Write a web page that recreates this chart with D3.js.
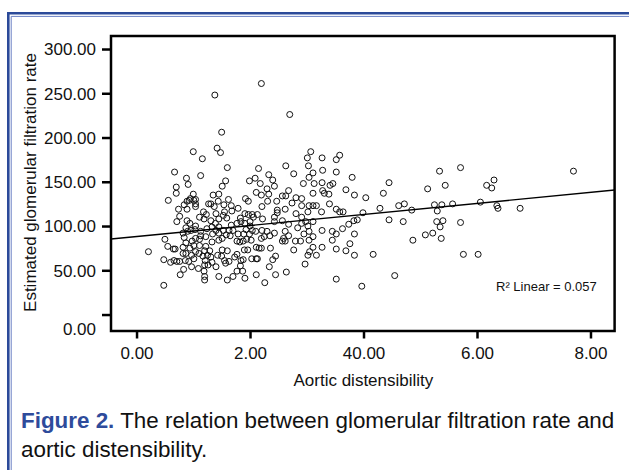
<!DOCTYPE html>
<html>
<head>
<meta charset="utf-8">
<script src="https://cdn.jsdelivr.net/npm/d3@7"></script>
<style>
  html, body { margin: 0; padding: 0; background: #fff; }
  svg { display: block; }
  text { font-family: "Liberation Sans", Arial, Helvetica, sans-serif; }
</style>
</head>
<body>
<svg id="chart" width="629" height="470"></svg>
<script>
// ---- data ----
const distensibility = [
  2.20,1.38,2.70,1.50,1.42,1.48,1.00,1.16,1.60,0.67,
  1.13,0.88,0.91,0.70,0.70,0.56,0.21,0.48,0.48,0.50,
  0.55,0.65,0.68,0.60,0.66,0.77,0.83,1.20,1.45,1.60,
  1.70,1.91,2.11,2.26,2.45,2.64,2.34,2.97,3.52,3.97,
  4.55,4.17,3.84,3.69,3.76,3.52,3.45,3.45,3.52,3.63,
  3.84,3.83,3.89,3.74,3.99,3.52,3.58,3.64,3.40,4.04,
  3.84,3.69,3.80,3.52,3.58,3.52,3.07,3.27,3.01,3.03,
  3.28,3.11,3.04,3.27,3.46,3.41,3.13,2.94,3.11,3.28,
  3.31,3.39,2.77,2.63,2.33,2.15,2.40,2.43,2.09,1.99,
  2.18,2.30,2.11,2.33,2.20,2.63,2.57,2.68,2.81,2.91,
  1.92,1.97,2.47,2.31,2.21,2.48,2.62,2.74,2.91,3.04,
  3.11,3.17,3.26,3.02,2.91,2.81,2.98,3.11,2.91,3.02,
  2.84,2.68,2.57,2.43,2.48,2.43,2.13,1.97,2.04,2.06,
  2.22,2.00,2.10,2.21,2.30,2.35,2.43,2.25,2.20,2.62,
  2.68,2.59,2.62,2.57,2.80,2.89,2.95,3.04,3.11,3.27,
  3.04,3.11,3.05,3.02,3.17,3.27,2.77,2.36,2.20,2.11,
  2.16,1.96,1.90,2.45,2.40,2.11,2.03,1.88,1.73,1.77,
  1.60,1.51,1.50,1.43,1.55,1.57,1.63,1.83,1.77,1.87,
  1.40,1.33,1.26,1.20,1.19,1.20,1.09,0.97,0.92,0.86,
  0.76,0.71,1.01,0.97,1.04,1.10,1.20,1.25,1.31,1.22,
  1.11,1.01,0.94,0.82,0.87,0.98,1.04,0.84,0.82,0.90,
  0.96,0.87,1.03,0.94,0.89,0.76,0.71,0.74,0.84,0.89,
  0.93,0.95,1.00,1.01,1.04,1.04,1.18,1.23,1.19,1.27,
  1.31,1.35,1.45,1.51,1.57,1.44,1.54,1.62,1.67,1.68,
  1.79,1.55,1.37,1.40,1.45,1.31,1.39,1.33,1.45,1.24,
  1.34,1.45,1.53,1.58,1.65,1.51,1.45,1.33,1.22,1.13,
  1.11,1.70,1.79,1.89,1.77,1.82,1.88,1.94,1.77,1.84,
  1.91,2.00,1.83,1.91,1.93,2.04,1.67,1.63,1.59,1.04,
  1.11,1.13,0.82,0.87,1.17,1.29,1.40,0.89,1.04,1.53,
  1.99,2.02,2.13,1.84,1.21,
  4.45,4.35,4.29,4.45,4.62,4.72,4.85,4.70,4.87,5.13,
  5.09,5.22,5.34,5.44,5.25,5.30,5.38,5.57,5.29,5.40,
  5.35,5.37,5.71,5.71,5.76,6.02,6.06,6.17,6.26,6.30,
  6.35,6.37,6.76,7.70
];
const gfr = [
  261,248,226,206,188,183,184,176,166,161,
  157,154,147,144,137,129,71,62,33,85,
  77,74,74,59,61,45,51,39,43,39,
  43,41,45,36,45,48,54,57,40,32,
  44,68,67,72,80,74,84,94,91,97,
  91,106,107,102,115,119,116,116,125,132,
  135,141,155,161,180,175,184,177,177,168,
  163,160,155,149,148,146,148,148,137,140,
  137,136,159,168,158,165,152,145,154,151,
  148,142,138,136,135,134,134,140,132,131,
  131,128,128,128,122,118,119,126,123,123,
  123,123,116,116,110,114,105,105,103,100,
  98,102,106,110,115,105,113,113,113,110,
  108,100,94,95,94,89,92,88,86,94,
  89,86,83,83,83,83,91,94,88,95,
  84,76,71,67,67,76,73,75,75,76,
  75,73,73,66,62,63,63,62,65,68,
  72,73,66,67,61,58,60,55,49,49,
  54,59,56,56,49,43,52,54,60,61,
  60,60,63,67,71,69,72,67,65,77,
  78,78,75,76,81,83,86,87,92,94,
  95,98,96,103,106,111,105,119,124,119,
  129,131,136,129,125,122,116,113,108,125,
  125,135,136,145,151,128,124,130,123,117,
  120,116,122,114,108,106,103,99,99,97,
  91,92,95,90,89,86,84,82,88,89,
  85,95,91,91,83,82,83,85,103,105,
  103,105,109,114,96,95,101,95,109,100,
  110,94,69,69,66,72,95,128,130,112,
  91,84,63,61,61,
  149,137,120,107,123,125,118,105,84,142,
  90,92,162,146,124,117,124,125,105,106,
  99,86,166,104,68,68,127,146,143,152,
  123,120,120,162
];
const xTickValues = [0, 2, 4, 6, 8];
const xTickLabels = ["0.00", "2.00", "40.00", "6.00", "8.00"];
const yTickValues = [0, 50, 100, 150, 200, 250, 300];
const fitIntercept = 88.1;
const fitSlope = 6.24;
const r2Label = "R\u00B2 Linear = 0.057";

// ---- layout ----
const svg = d3.select("#chart");
const box = { left: 111, top: 36, right: 614.6, bottom: 331 };

const x = d3.scaleLinear().domain([-0.45, 8.425]).range([box.left, box.right]);
const y = d3.scaleLinear().domain([-18.6, 314.7]).range([box.bottom, box.top]);

// frame lines
svg.append("path").attr("d", "M8.3,470V13.3H629")
  .attr("fill", "none").attr("stroke", "#2b4a99").attr("stroke-width", 2.6);
svg.append("path").attr("d", "M11.2,470V16.4H629")
  .attr("fill", "none").attr("stroke", "#6a80c4").attr("stroke-width", 1);

// y axis
const yAxis = svg.append("g")
  .attr("transform", `translate(${box.left},0)`)
  .call(d3.axisLeft(y).tickValues(yTickValues).tickSize(9).tickPadding(6)
    .tickFormat(d3.format(".2f")));
yAxis.select(".domain").remove();
yAxis.selectAll(".tick line").attr("stroke", "#000").attr("stroke-width", 2.5);
yAxis.selectAll(".tick text")
  .attr("fill", "#111").style("font-size", "17px")
  .style("font-family", "'Liberation Sans', Arial, sans-serif")
  .attr("dy", d => d === 0 ? "1.15em" : "0.35em");

// x axis
const xAxis = svg.append("g")
  .attr("transform", `translate(0,${box.bottom})`)
  .call(d3.axisBottom(x).tickValues(xTickValues).tickSize(7.5).tickPadding(8.5)
    .tickFormat((d, i) => xTickLabels[i]));
xAxis.select(".domain").remove();
xAxis.selectAll(".tick line").attr("stroke", "#000").attr("stroke-width", 2.5);
xAxis.selectAll(".tick text")
  .attr("fill", "#111").style("font-size", "17px")
  .style("font-family", "'Liberation Sans', Arial, sans-serif");

// plot box
svg.append("rect")
  .attr("x", box.left).attr("y", box.top)
  .attr("width", box.right - box.left).attr("height", box.bottom - box.top)
  .attr("fill", "none").attr("stroke", "#000").attr("stroke-width", 2.5);

// points
const pts = d3.zip(distensibility, gfr);
svg.append("g").selectAll("circle").data(pts).join("circle")
  .attr("cx", d => x(d[0])).attr("cy", d => y(d[1]))
  .attr("r", 3).attr("fill", "none").attr("stroke", "#111").attr("stroke-width", 1);

// fit line
const [x0, x1] = x.domain();
svg.append("line")
  .attr("x1", x(x0)).attr("y1", y(fitIntercept + fitSlope * x0))
  .attr("x2", x(x1)).attr("y2", y(fitIntercept + fitSlope * x1))
  .attr("stroke", "#000").attr("stroke-width", 1.4);

// R2 label
svg.append("text").attr("x", 496).attr("y", 290.5)
  .attr("fill", "#111").style("font-size", "13px").text(r2Label);

// axis titles
svg.append("text")
  .attr("transform", "translate(35.5,182.5) rotate(-90)")
  .attr("text-anchor", "middle").attr("fill", "#111").style("font-size", "17px")
  .text("Estimated glomerular filtration rate");
svg.append("text")
  .attr("x", 363.4).attr("y", 386)
  .attr("text-anchor", "middle").attr("fill", "#111").style("font-size", "17px")
  .text("Aortic distensibility");

// caption
const cap1 = svg.append("text").attr("x", 21).attr("y", 428).style("font-size", "22.4px");
cap1.append("tspan").attr("fill", "#2e4b9b").style("font-weight", "bold").text("Figure 2.");
cap1.append("tspan").attr("fill", "#111").text(" The relation between glomerular filtration rate and");
svg.append("text").attr("x", 21).attr("y", 457).style("font-size", "22.4px")
  .attr("fill", "#111").text("aortic distensibility.");
</script>
</body>
</html>
